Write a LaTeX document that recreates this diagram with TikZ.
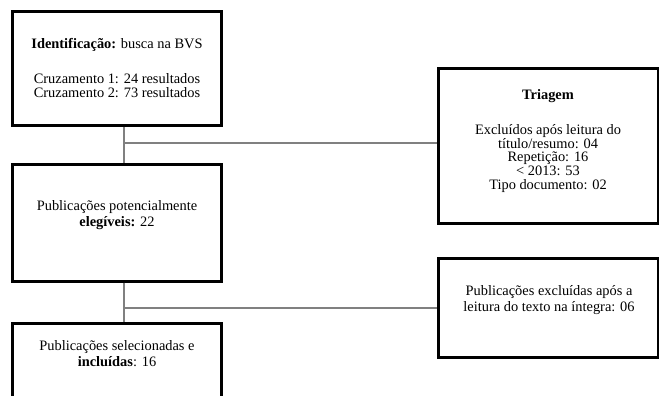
\documentclass[tikz,border=0pt]{standalone}
\usepackage{fontspec}
\setmainfont{Liberation Serif}
\begin{document}
\begin{tikzpicture}[x=1pt,y=-1pt,
  box/.style={draw=black,line width=3pt,rectangle,inner sep=0pt,fill=white},
  conn/.style={draw=black!50,line width=1.6pt},
  txt/.style={align=center,inner sep=0pt,font=\fontsize{14.4}{16.6}\selectfont},
  tight/.style={align=center,inner sep=0pt,font=\fontsize{14.4}{13.8}\selectfont}]
\useasboundingbox (0,0) rectangle (659,396);
\clip (0,0) rectangle (659,396);
% junction points
\coordinate (j1) at (124,143);
\coordinate (j2) at (124,308);
% boxes
\node[box,minimum width=209pt,minimum height=114pt] (b1) at (117,68.5) {};
\node[box,minimum width=209pt,minimum height=117pt] (b2) at (117,222.5) {};
\node[box,minimum width=209pt,minimum height=117pt] (b3) at (117,381.5) {};
\node[box,minimum width=220pt,minimum height=155pt] (tri) at (548,146) {};
\node[box,minimum width=220pt,minimum height=99pt] (exc) at (548,307.5) {};
% connectors
\draw[conn] (b1.south -| j1) -- (b2.north -| j1);
\draw[conn] (j1) -- (j1 -| tri.west);
\draw[conn] (b2.south -| j2) -- (b3.north -| j2);
\draw[conn] (j2) -- (j2 -| exc.west);
% texts
\node[tight] (t1) at (117,68) {\textbf{Identificação:} busca na BVS\\[21.5pt]
Cruzamento 1: 24 resultados\\ Cruzamento 2: 73 resultados};
\node[tight] (t2) at (548,141) {\textbf{Triagem}\\[21pt]
Excluídos após leitura do\\ título/resumo: 04\\ Repetição: 16\\ < 2013: 53\\ Tipo documento: 02};
\node[txt] (t3) at (117,215) {Publicações potencialmente\\ \textbf{elegíveis:} 22};
\node[txt] (t4) at (117,353.5) {Publicações selecionadas e\\ \textbf{incluídas}: 16};
\node[txt] (t5) at (549,300) {Publicações excluídas após a\\ leitura do texto na íntegra: 06};
\end{tikzpicture}
\end{document}
